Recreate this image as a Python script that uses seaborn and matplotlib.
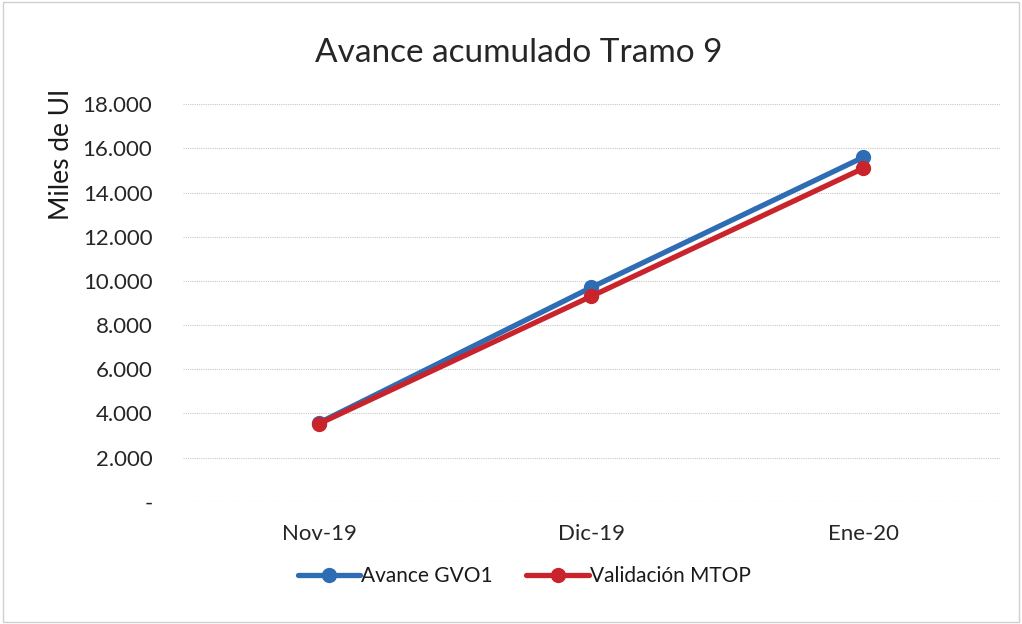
import matplotlib
matplotlib.use("Agg")
import matplotlib.pyplot as plt
import seaborn as sns
import pandas as pd
from matplotlib.ticker import FuncFormatter

categories = ["Nov-19", "Dic-19", "Ene-20"]
avance_gvo1 = [3570, 9700, 15600]
validacion_mtop = [3530, 9300, 15100]
series_names = ["Avance GVO1", "Validación MTOP"]

df = pd.DataFrame({
    "mes": categories * 2,
    "valor": avance_gvo1 + validacion_mtop,
    "serie": [series_names[0]] * 3 + [series_names[1]] * 3,
})

sns.set_style("white")
plt.rcParams['font.family'] = ['Lato', 'DejaVu Sans']

fig = plt.figure(figsize=(10.22, 6.24), dpi=100)
ax = fig.add_axes([0.179, 0.196, 0.799, 0.637])

palette = {series_names[0]: "#2E6DB4", series_names[1]: "#C9232B"}
sns.lineplot(data=df, x="mes", y="valor", hue="serie", palette=palette,
             marker="o", markersize=11, linewidth=3.8, markeredgewidth=0,
             sort=False, ax=ax, legend=True)

ax.set_xlim(-0.5, 2.5)
ax.set_ylim(0, 18000)
ax.set_yticks(range(0, 18001, 2000))

def fmt(v, pos):
    if v == 0:
        return "-"
    return f"{int(v):,}".replace(",", ".")
ax.yaxis.set_major_formatter(FuncFormatter(fmt))

ax.grid(axis="y", color="#C8C8C8", linewidth=0.8, linestyle=(0, (1, 1)))
ax.set_axisbelow(True)
for s in ax.spines.values():
    s.set_visible(False)
ax.tick_params(axis="both", length=0, labelsize=16, colors="#262626")
ax.tick_params(axis="y", pad=22)
ax.tick_params(axis="x", pad=16)
ax.set_xlabel("")
ax.set_ylabel("")
fig.text(0.060, 0.857, "Miles de UI", fontsize=19, color="#1a1a1a",
         rotation=90, ha="center", va="top")
fig.text(0.508, 0.915, "Avance acumulado Tramo 9", fontsize=24, color="#262626",
         ha="center", va="center")

leg = ax.legend(loc="upper center", bbox_to_anchor=(0.418, -0.115), ncol=2,
                frameon=False, fontsize=15, handlelength=3.0, columnspacing=1.6,
                handletextpad=0.05)
for t in leg.get_texts():
    t.set_color("#1a1a1a")

fig.patches.append(plt.Rectangle((0.003, 0.003), 0.994, 0.994, transform=fig.transFigure,
                                 fill=False, edgecolor="#D0D0D0", linewidth=1))
fig.savefig("out.png", dpi=100, facecolor="white")
